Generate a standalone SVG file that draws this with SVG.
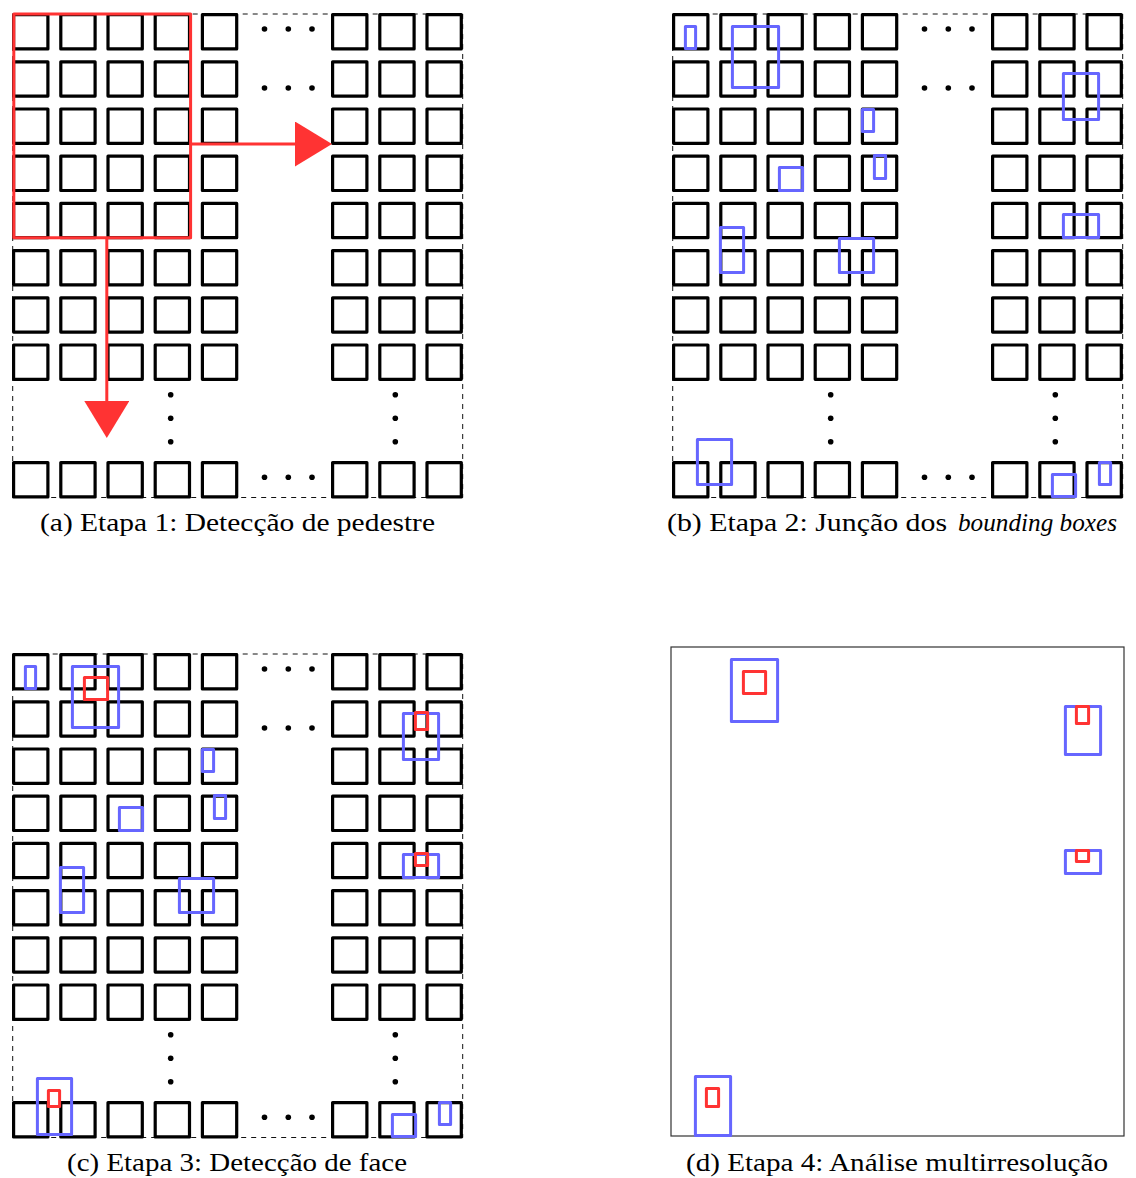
<svg xmlns="http://www.w3.org/2000/svg" xmlns:xlink="http://www.w3.org/1999/xlink" width="1136" height="1178" viewBox="0 0 1136 1178">
<style>
.sq{fill:none;stroke:#000;stroke-width:3.2;stroke-linejoin:round}
.dash{fill:none;stroke:#111;stroke-width:1;stroke-dasharray:5 5}
.dot{fill:#000}
.blue{fill:none;stroke:#6666ff;stroke-width:3;stroke-linejoin:round}
.red{fill:none;stroke:#ff3333;stroke-width:3;stroke-linejoin:round}
.arr{fill:none;stroke:#ff3333;stroke-width:3}
.cap{font-family:"Liberation Serif","DejaVu Serif",serif;font-size:26px;fill:#000}
.frame{fill:none;stroke:#333;stroke-width:1.2}
</style>
<defs>
<marker id="head" markerUnits="userSpaceOnUse" markerWidth="38" markerHeight="46" refX="5" refY="22.5" orient="auto" viewBox="0 0 38 46">
<path d="M0,0 L37,22.5 L0,45 Z" fill="#ff3333"/>
</marker>
<g id="row">
<rect class="sq" x="13.6" y="0" width="34.3" height="34.3"/>
<rect class="sq" x="60.8" y="0" width="34.3" height="34.3"/>
<rect class="sq" x="108" y="0" width="34.3" height="34.3"/>
<rect class="sq" x="155.2" y="0" width="34.3" height="34.3"/>
<rect class="sq" x="202.4" y="0" width="34.3" height="34.3"/>
<rect class="sq" x="332.6" y="0" width="34.3" height="34.3"/>
<rect class="sq" x="379.8" y="0" width="34.3" height="34.3"/>
<rect class="sq" x="427" y="0" width="34.3" height="34.3"/>
</g>
<g id="grid">
<rect class="dash" x="12.7" y="14" width="450" height="483.5"/>
<use href="#row" y="14.6"/>
<use href="#row" y="61.8"/>
<use href="#row" y="109"/>
<use href="#row" y="156.2"/>
<use href="#row" y="203.4"/>
<use href="#row" y="250.6"/>
<use href="#row" y="297.8"/>
<use href="#row" y="345"/>
<use href="#row" y="462.6"/>
<circle class="dot" cx="264.5" cy="29" r="2.8"/>
<circle class="dot" cx="288.3" cy="29" r="2.8"/>
<circle class="dot" cx="312" cy="29" r="2.8"/>
<circle class="dot" cx="264.5" cy="88" r="2.8"/>
<circle class="dot" cx="288.3" cy="88" r="2.8"/>
<circle class="dot" cx="312" cy="88" r="2.8"/>
<circle class="dot" cx="264.5" cy="477.3" r="2.8"/>
<circle class="dot" cx="288.3" cy="477.3" r="2.8"/>
<circle class="dot" cx="312" cy="477.3" r="2.8"/>
<circle class="dot" cx="170.7" cy="394.7" r="2.8"/>
<circle class="dot" cx="170.7" cy="418.3" r="2.8"/>
<circle class="dot" cx="170.7" cy="441.7" r="2.8"/>
<circle class="dot" cx="395.3" cy="394.7" r="2.8"/>
<circle class="dot" cx="395.3" cy="418.3" r="2.8"/>
<circle class="dot" cx="395.3" cy="441.7" r="2.8"/>
</g>
</defs>
<rect x="0" y="0" width="1136" height="1178" fill="#fff"/>

<g id="panel-a">
<use href="#grid"/>
<rect id="window-a" class="red" x="13.8" y="14" width="176.8" height="223.8"/>
<text class="cap" x="40" y="531" textLength="395" lengthAdjust="spacingAndGlyphs">(a) Etapa 1: Detecção de pedestre</text>
</g>
<g id="connectors">
<line class="arr" x1="190.6" y1="144" x2="300" y2="144" marker-end="url(#head)"/>
<line class="arr" x1="106.8" y1="237.8" x2="106.8" y2="406" marker-end="url(#head)"/>
</g>

<g id="panel-b">
<use href="#grid" x="660"/>
<rect class="blue" x="685.4" y="26.4" width="10.2" height="22.2"/>
<rect class="blue" x="732.4" y="26.4" width="46.2" height="61.2"/>
<rect class="blue" x="862.4" y="109.4" width="11.2" height="22.2"/>
<rect class="blue" x="874.4" y="155.4" width="11.2" height="23.2"/>
<rect class="blue" x="779.4" y="167.4" width="23.2" height="23.2"/>
<rect class="blue" x="720.4" y="227.4" width="23.2" height="45.2"/>
<rect class="blue" x="839.4" y="238.4" width="34.2" height="34.2"/>
<rect class="blue" x="1063.4" y="73.4" width="35.2" height="46.2"/>
<rect class="blue" x="1063.4" y="214.4" width="35.2" height="23.2"/>
<rect class="blue" x="697.4" y="439.4" width="34.2" height="45.2"/>
<rect class="blue" x="1052.4" y="474.4" width="23.2" height="22.2"/>
<rect class="blue" x="1099.4" y="462.4" width="11.2" height="22.2"/>
<text class="cap" y="531"><tspan x="667" textLength="280" lengthAdjust="spacingAndGlyphs">(b) Etapa 2: Junção dos</tspan> <tspan x="958" font-style="italic" textLength="159" lengthAdjust="spacingAndGlyphs">bounding boxes</tspan></text>
</g>

<g id="panel-c">
<use href="#grid" y="640"/>
<rect class="blue" x="25.4" y="666.4" width="10.2" height="22.2"/>
<rect class="blue" x="72.4" y="666.4" width="46.2" height="61.2"/>
<rect class="blue" x="202.4" y="749.4" width="11.2" height="22.2"/>
<rect class="blue" x="214.4" y="795.4" width="11.2" height="23.2"/>
<rect class="blue" x="119.4" y="807.4" width="23.2" height="23.2"/>
<rect class="blue" x="60.4" y="867.4" width="23.2" height="45.2"/>
<rect class="blue" x="179.4" y="878.4" width="34.2" height="34.2"/>
<rect class="blue" x="403.4" y="713.4" width="35.2" height="46.2"/>
<rect class="blue" x="403.4" y="854.4" width="35.2" height="23.2"/>
<rect class="blue" x="37.4" y="1078.4" width="34.2" height="56.2"/>
<rect class="blue" x="392.4" y="1114.4" width="23.2" height="22.2"/>
<rect class="blue" x="439.4" y="1102.4" width="11.2" height="22.2"/>
<rect class="red" x="84.4" y="677.4" width="23.2" height="22.2"/>
<rect class="red" x="415.4" y="712.4" width="12.2" height="17.2"/>
<rect class="red" x="415.4" y="853.4" width="12.2" height="12.2"/>
<rect class="red" x="48.4" y="1090.4" width="11.2" height="16.2"/>
<text class="cap" x="67" y="1171" textLength="340" lengthAdjust="spacingAndGlyphs">(c) Etapa 3: Detecção de face</text>
</g>

<g id="panel-d">
<rect class="frame" x="671" y="647" width="453" height="489"/>
<rect class="blue" x="731.4" y="659.4" width="46.2" height="62.2"/>
<rect class="red" x="743.4" y="671.4" width="22.2" height="22.2"/>
<rect class="blue" x="1065.4" y="706.4" width="35.2" height="48.2"/>
<rect class="red" x="1076.4" y="706.4" width="12.2" height="17.2"/>
<rect class="blue" x="1065.4" y="850.4" width="35.2" height="23.2"/>
<rect class="red" x="1076.4" y="850.4" width="12.2" height="11.2"/>
<rect class="blue" x="695.4" y="1076.4" width="35.2" height="59.2"/>
<rect class="red" x="706.4" y="1088.4" width="12.2" height="18.2"/>
<text class="cap" x="686" y="1171" textLength="422" lengthAdjust="spacingAndGlyphs">(d) Etapa 4: Análise multirresolução</text>
</g>
</svg>
